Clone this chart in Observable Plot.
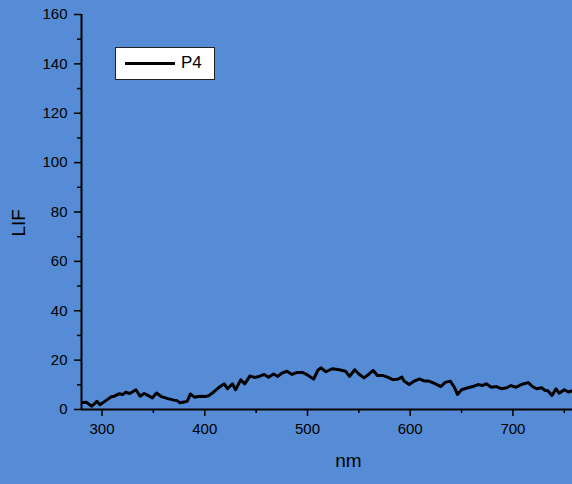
<!DOCTYPE html>
<html>
<head>
<meta charset="utf-8">
<script src="https://cdn.jsdelivr.net/npm/d3@7"></script>
<script src="https://cdn.jsdelivr.net/npm/@observablehq/plot@0.6"></script>
<style>
  html, body { margin: 0; padding: 0; background: #558CD5; }
  #wrap { position: relative; width: 572px; height: 484px; overflow: hidden; font-family: Arial, "Liberation Sans", sans-serif; }
  #legend { position: absolute; left: 115px; top: 47px; width: 98px; height: 31px; background: #fff; border: 1px solid #222; box-sizing: content-box; }
  #legend .sw { position: absolute; left: 9px; top: 14px; width: 50px; height: 3px; background: #000; }
  #legend .lb { position: absolute; left: 65px; top: 5px; font-size: 17px; line-height: 20px; color: #000; }
</style>
</head>
<body>
<div id="wrap"></div>
<script>
const seriesName = "P4";
const xLabel = "nm";
const yLabel = "LIF";
const xTicks = [300, 400, 500, 600, 700];
const xMinorTicks = [350, 450, 550, 650, 750];
const yTicks = [0, 20, 40, 60, 80, 100, 120, 140, 160];
const yMinorTicks = [10, 30, 50, 70, 90, 110, 130, 150];

const wavelength = [281,285,290,295,298,303,309,312,317,320,323,327,333,337,341,345,349,353,358,364,370,373,376,380,383,386,390,395,400,404,409,414,419,422,427,430,435,439,444,448,453,458,462,467,471,475,480,485,490,495,500,506,510,513,518,524,531,537,541,546,550,555,560,564,568,573,578,583,588,592,594,599,604,609,614,618,623,630,634,639,643,646,650,653,658,661,666,670,674,679,684,689,694,698,703,708,715,719,723,728,731,734,738,742,745,750,754,758];
const lif = [2.8,2.9,1.3,3.3,1.9,3.4,5.2,5.4,6.4,6.0,7.0,6.5,8.0,5.4,6.5,5.6,4.7,6.7,5.2,4.4,3.8,3.6,2.7,3.0,3.4,6.3,5.0,5.4,5.3,5.6,7.2,9.0,10.4,8.4,10.4,8.0,12.0,10.4,13.6,13.0,13.4,14.2,13.1,14.4,13.4,14.7,15.5,14.2,15.0,15.0,14.0,12.3,15.8,16.9,15.3,16.5,16.1,15.5,13.4,16.1,14.4,12.8,14.4,15.8,13.8,13.8,13.1,12.1,12.3,13.1,11.5,10.1,11.5,12.4,11.5,11.5,10.7,9.3,11.0,11.5,9.0,6.1,8.0,8.4,9.0,9.3,10.1,9.7,10.4,9.0,9.3,8.4,8.8,9.7,9.0,10.1,10.9,9.3,8.4,8.8,7.8,7.6,5.7,8.4,6.6,8.0,7.1,7.6];

const data = wavelength.map((w, i) => ({w, v: lif[i]}));

const chart = Plot.plot({
  width: 572,
  height: 484,
  marginLeft: 81,
  marginRight: 0,
  marginTop: 14,
  marginBottom: 75,
  style: { background: "#558CD5", fontFamily: "Arial, 'Liberation Sans', sans-serif", fontSize: "15px", color: "#000", overflow: "hidden" },
  x: { domain: [280, 758] },
  y: { domain: [0, 160] },
  marks: [
    Plot.axisX({ ticks: xTicks, tickSize: 7, tickPadding: 7, strokeWidth: 1.5, label: null, tickFormat: d => String(d) }),
    Plot.axisX({ ticks: xMinorTicks, tickSize: 4, strokeWidth: 1.5, label: null, tickFormat: () => "" }),
    Plot.axisY({ ticks: yTicks, tickSize: 7, tickPadding: 7, strokeWidth: 1.5, label: null, tickFormat: d => String(d) }),
    Plot.axisY({ ticks: yMinorTicks, tickSize: 4, strokeWidth: 1.5, label: null, tickFormat: () => "" }),
    Plot.ruleY([0], { stroke: "#000", strokeWidth: 2 }),
    Plot.ruleX([280], { stroke: "#000", strokeWidth: 2 }),
    Plot.line(data, { x: "w", y: "v", stroke: "#000", strokeWidth: 3, strokeLinejoin: "round" }),
    Plot.text([xLabel], { frameAnchor: "bottom", dx: 21.5, dy: 57, fontSize: 19, fill: "#000" }),
    Plot.text([yLabel], { frameAnchor: "bottom-left", dx: -57, dy: -173, rotate: -90, fontSize: 19, fill: "#000" })
  ]
});

const wrap = document.getElementById("wrap");
wrap.appendChild(chart);
const legend = document.createElement("div");
legend.id = "legend";
legend.innerHTML = `<div class="sw"></div><div class="lb"></div>`;
legend.querySelector(".lb").textContent = seriesName;
wrap.appendChild(legend);
</script>
</body>
</html>
